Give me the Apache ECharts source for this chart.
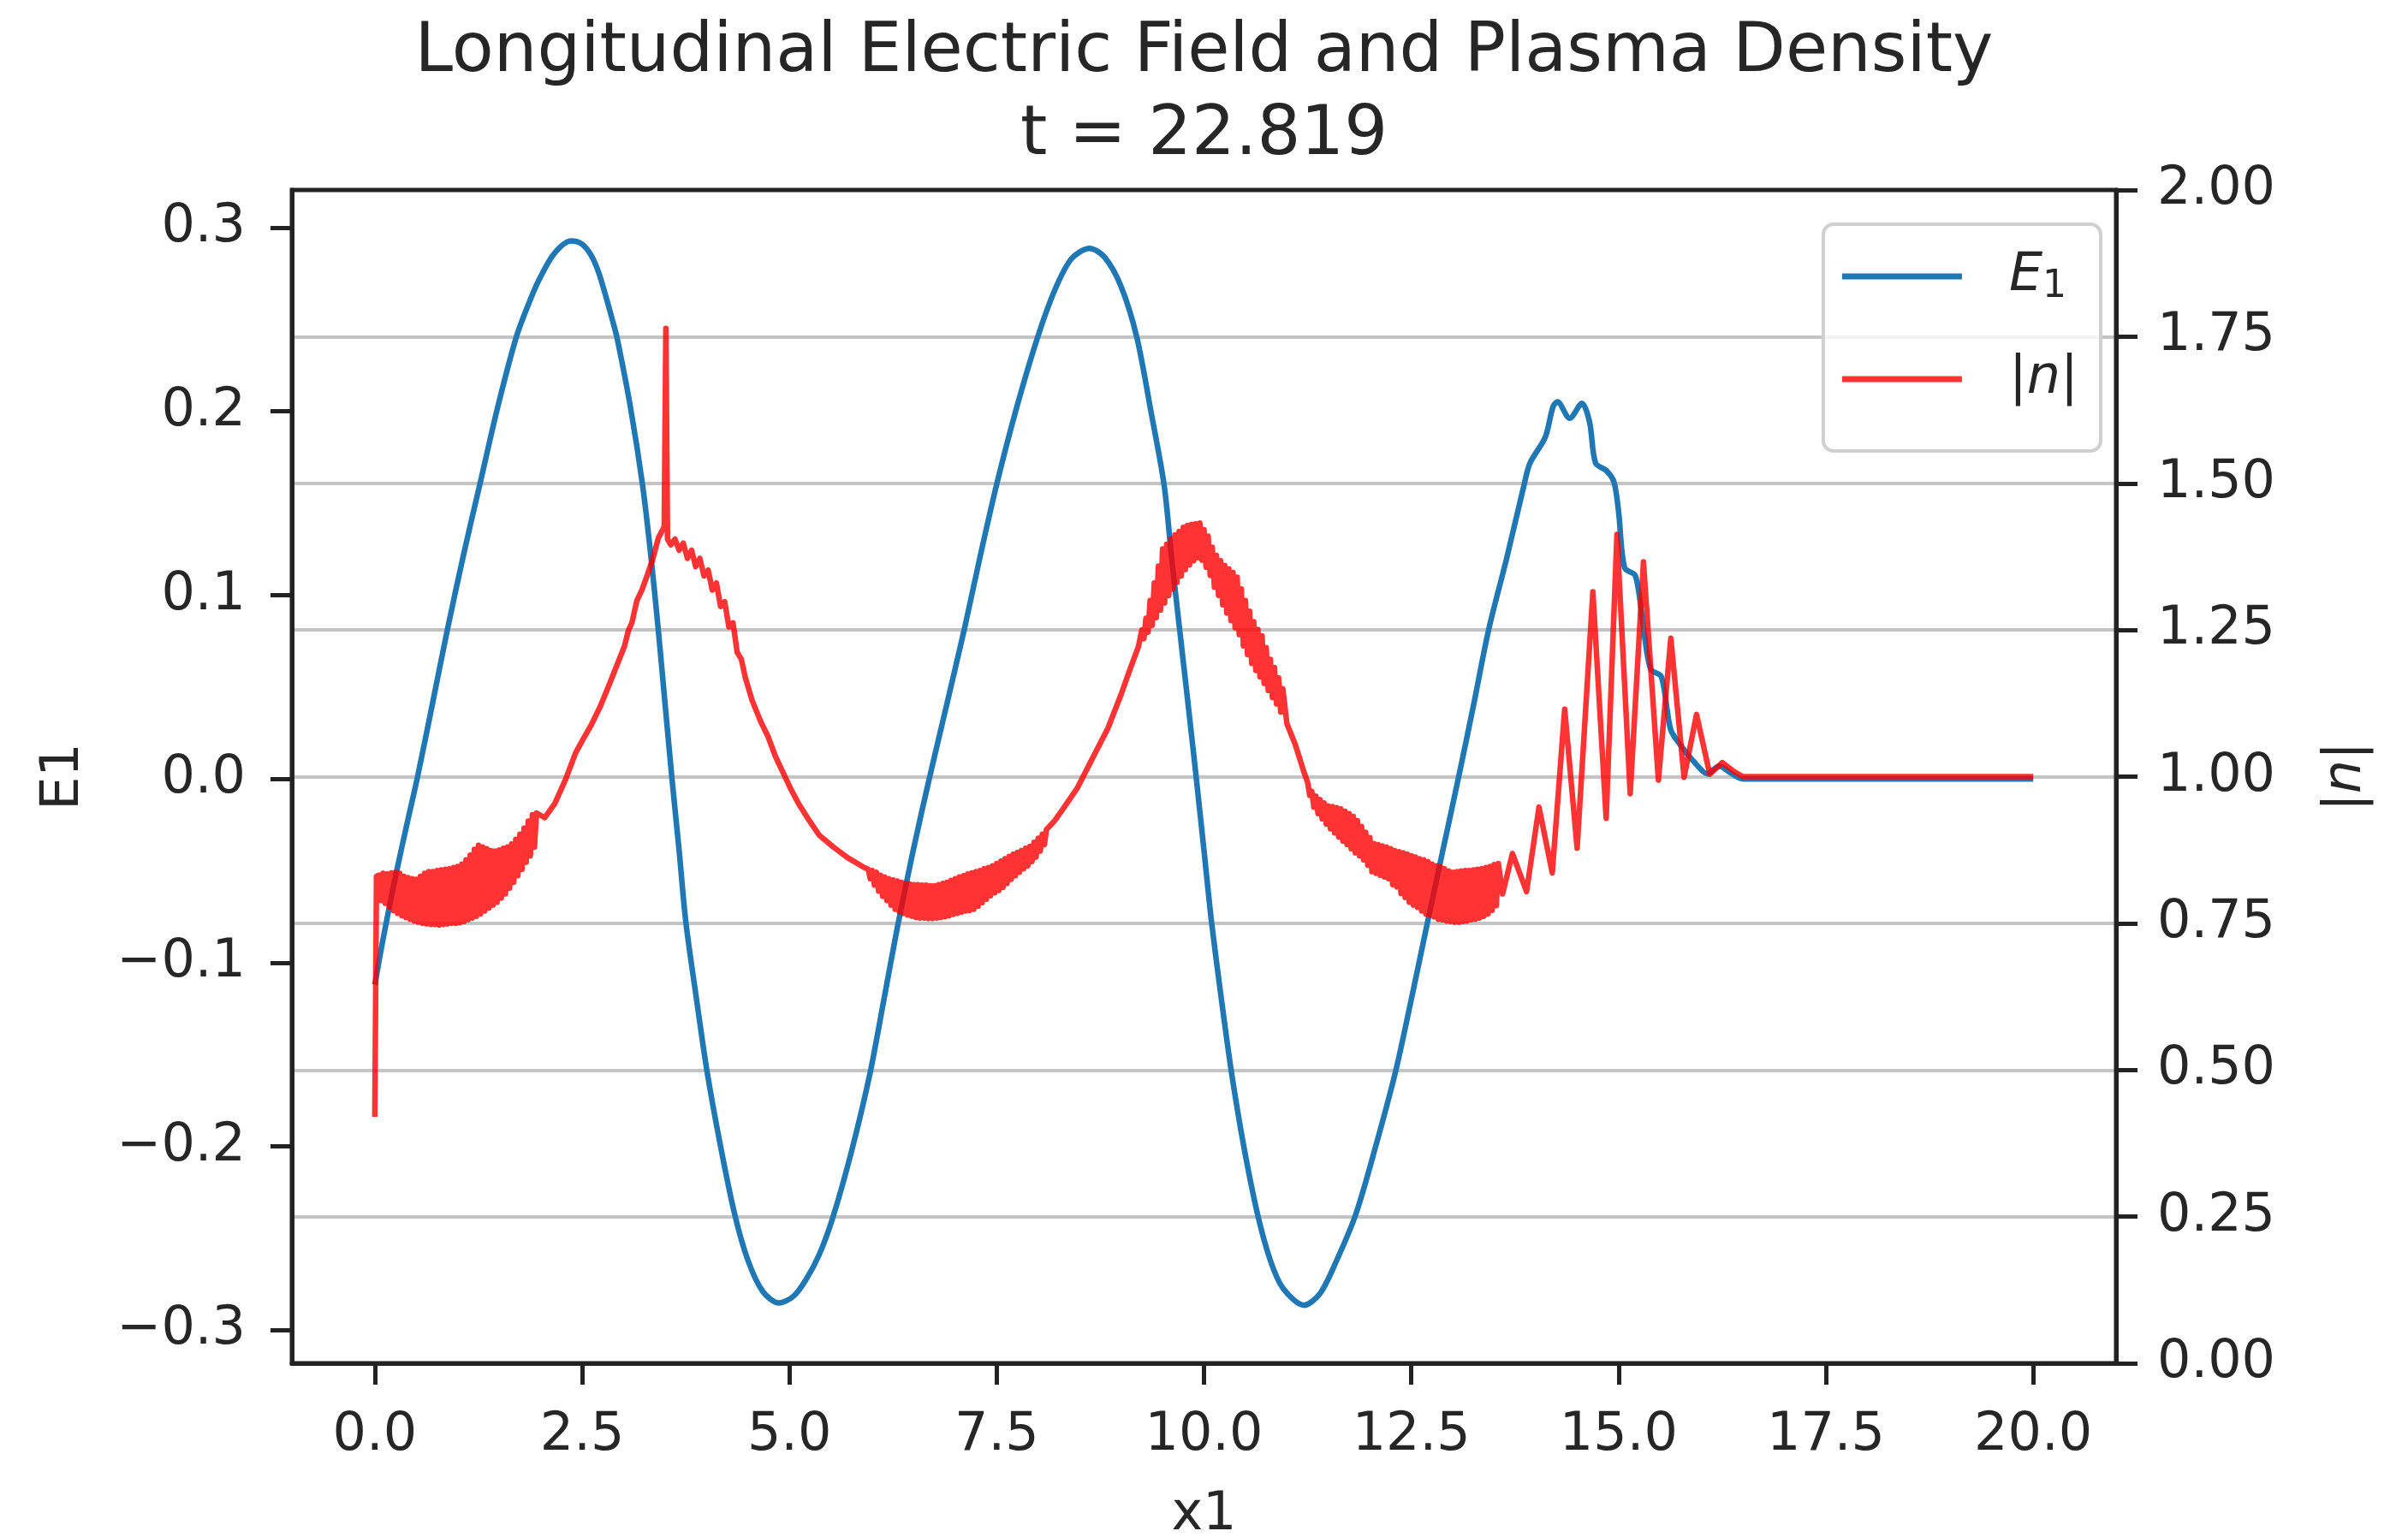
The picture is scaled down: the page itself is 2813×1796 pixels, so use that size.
<!DOCTYPE html>
<html><head><meta charset="utf-8">
<script src="https://cdn.jsdelivr.net/npm/echarts@6/dist/echarts.min.js"></script>
<style>html,body{margin:0;padding:0;background:#fff}#c{width:2813px;height:1796px}</style>
</head><body><div id="c"></div><script>
const titleText = 'Longitudinal Electric Field and Plasma Density\nt = 22.819';
const xName = 'x1';
const leftName = 'E1';
const xTickValues = [0, 2.5, 5, 7.5, 10, 12.5, 15, 17.5, 20];
const eTickValues = [-0.3, -0.2, -0.1, 0, 0.1, 0.2, 0.3];
const seriesNames = ['E1', 'n'];

// Longitudinal electric field E1 vs x1
const e1Points = [
[0.0,-0.112],[0.1,-0.087],[0.25,-0.053],[0.4,-0.022],[0.51,0.0],[0.7,0.042],[0.876,0.0814],[1.07,0.122],[1.263,0.1596],[1.48,0.202],[1.705,0.2403],[1.85,0.258],[1.98,0.2716],[2.165,0.286],[2.368,0.2928],[2.5,0.291],[2.608,0.285],[2.7,0.2755],[2.79,0.262],[2.87,0.249],[2.92,0.2403],[3.08,0.203],[3.23,0.1596],[3.33,0.121],[3.418,0.0814],[3.5,0.041],[3.584,0.0],[3.67,-0.039],[3.75,-0.0775],[3.88,-0.12],[4.007,-0.1593],[4.17,-0.2],[4.339,-0.2367],[4.5,-0.262],[4.68,-0.279],[4.873,-0.2852],[5.05,-0.2815],[5.2,-0.2725],[5.363,-0.2585],[5.525,-0.2385],[5.75,-0.2025],[5.967,-0.1613],[6.13,-0.1225],[6.299,-0.0815],[6.49,-0.0395],[6.686,0.0],[6.9,0.041],[7.109,0.0814],[7.3,0.121],[7.496,0.1596],[7.74,0.202],[7.993,0.2403],[8.2,0.266],[8.4,0.283],[8.619,0.2887],[8.8,0.284],[9.0,0.268],[9.19,0.2403],[9.36,0.2],[9.52,0.1596],[9.61,0.12],[9.706,0.0814],[9.81,0.04],[9.908,0.0],[10.0,-0.039],[10.09,-0.0775],[10.21,-0.12],[10.33,-0.1593],[10.48,-0.2],[10.645,-0.2367],[10.8,-0.262],[10.95,-0.277],[11.206,-0.2864],[11.4,-0.28],[11.6,-0.262],[11.832,-0.2367],[12.07,-0.2],[12.31,-0.1593],[12.5,-0.12],[12.698,-0.0775],[12.88,-0.039],[13.066,0.0],[13.25,0.04],[13.434,0.0814],[13.65,0.12],[13.858,0.1596],[13.931,0.1718],[14.116,0.186],[14.208,0.2024],[14.263,0.2052],[14.41,0.1963],[14.558,0.2044],[14.65,0.1942],[14.723,0.1718],[14.852,0.1678],[14.944,0.1616],[15.0,0.1454],[15.073,0.1148],[15.202,0.1107],[15.294,0.0843],[15.386,0.0598],[15.515,0.0557],[15.626,0.0272],[15.736,0.019],[15.957,0.0069],[16.068,0.0028],[16.215,0.007],[16.36,0.003],[16.5,0.0],[20.0,0.0]
];

// Plasma density |n| vs x1 (noisy band regions read as alternating upper/lower edge)
const densityPoints = [
[0.00,0.42],[0.02,0.83],
[0.050,0.832],[0.075,0.789],[0.100,0.835],[0.125,0.784],[0.150,0.834],[0.175,0.778],[0.200,0.836],[0.225,0.772],[0.250,0.837],[0.275,0.767],[0.300,0.835],[0.325,0.763],[0.350,0.830],[0.375,0.760],[0.400,0.828],[0.425,0.757],[0.450,0.826],[0.475,0.754],[0.500,0.825],[0.525,0.752],[0.550,0.830],[0.575,0.750],[0.600,0.835],[0.625,0.749],[0.650,0.838],[0.675,0.748],[0.700,0.838],[0.725,0.748],[0.750,0.840],[0.775,0.747],[0.800,0.841],[0.825,0.748],[0.850,0.842],[0.875,0.749],[0.900,0.843],[0.925,0.750],[0.950,0.845],[0.975,0.750],[1.000,0.847],[1.025,0.751],[1.050,0.851],[1.075,0.753],[1.100,0.858],[1.125,0.756],[1.150,0.866],[1.175,0.759],[1.200,0.876],[1.225,0.762],[1.250,0.883],[1.275,0.766],[1.300,0.880],[1.325,0.771],[1.350,0.877],[1.375,0.776],[1.400,0.874],[1.425,0.781],[1.450,0.873],[1.475,0.786],[1.500,0.875],[1.525,0.793],[1.550,0.878],[1.575,0.800],[1.600,0.880],[1.625,0.810],[1.650,0.885],[1.675,0.820],[1.700,0.893],[1.725,0.831],[1.750,0.902],[1.775,0.842],[1.800,0.912],[1.825,0.854],[1.850,0.924],[1.875,0.865],[1.900,0.935],[1.925,0.880],[1.950,0.938],
[2.05,0.930],[2.17,0.954],[2.30,0.995],[2.42,1.040],[2.52,1.066],[2.61,1.088],[2.72,1.120],[2.83,1.158],[2.92,1.190],[3.01,1.222],[3.06,1.250],[3.10,1.262],[3.16,1.300],[3.22,1.318],[3.27,1.337],[3.35,1.370],[3.42,1.407],[3.49,1.426],
[3.51,1.764],[3.53,1.405],
[3.57,1.395],[3.62,1.405],[3.67,1.386],[3.72,1.398],[3.77,1.372],[3.82,1.386],[3.87,1.358],[3.92,1.372],[3.97,1.342],[4.02,1.352],[4.07,1.318],[4.12,1.330],[4.17,1.290],[4.22,1.298],[4.27,1.255],[4.32,1.262],[4.37,1.212],[4.42,1.200],[4.47,1.168],
[4.55,1.130],[4.65,1.095],[4.74,1.069],[4.83,1.035],[4.93,1.005],[5.02,0.978],[5.11,0.954],[5.24,0.925],[5.36,0.900],[5.53,0.880],[5.70,0.862],[5.89,0.846],
[5.950,0.842],[5.975,0.826],[6.000,0.840],[6.025,0.815],[6.050,0.837],[6.075,0.805],[6.100,0.832],[6.125,0.796],[6.150,0.829],[6.175,0.789],[6.200,0.826],[6.225,0.781],[6.250,0.824],[6.275,0.774],[6.300,0.822],[6.325,0.770],[6.350,0.820],[6.375,0.767],[6.400,0.818],[6.425,0.764],[6.450,0.817],[6.475,0.762],[6.500,0.816],[6.525,0.760],[6.550,0.816],[6.575,0.759],[6.600,0.815],[6.625,0.759],[6.650,0.815],[6.675,0.758],[6.700,0.814],[6.725,0.758],[6.750,0.814],[6.775,0.759],[6.800,0.816],[6.825,0.760],[6.850,0.818],[6.875,0.761],[6.900,0.820],[6.925,0.763],[6.950,0.823],[6.975,0.765],[7.000,0.826],[7.025,0.767],[7.050,0.829],[7.075,0.769],[7.100,0.831],[7.125,0.771],[7.150,0.834],[7.175,0.772],[7.200,0.836],[7.225,0.774],[7.250,0.838],[7.275,0.779],[7.300,0.840],[7.325,0.785],[7.350,0.843],[7.375,0.791],[7.400,0.845],[7.425,0.797],[7.450,0.848],[7.475,0.802],[7.500,0.852],[7.525,0.806],[7.550,0.856],[7.575,0.811],[7.600,0.860],[7.625,0.818],[7.650,0.864],[7.675,0.825],[7.700,0.868],[7.725,0.831],[7.750,0.871],[7.775,0.837],[7.800,0.874],[7.825,0.843],[7.850,0.878],[7.875,0.848],[7.900,0.881],[7.925,0.855],[7.950,0.888],[7.975,0.863],[8.000,0.895],[8.025,0.873],[8.050,0.902],[8.075,0.884],[8.100,0.910],
[8.20,0.925],[8.30,0.945],[8.47,0.980],[8.65,1.030],[8.84,1.082],[9.00,1.140],[9.10,1.180],[9.21,1.222],
[9.250,1.250],[9.275,1.235],[9.300,1.270],[9.325,1.246],[9.350,1.300],[9.375,1.258],[9.400,1.330],[9.425,1.271],[9.450,1.359],[9.475,1.284],[9.500,1.388],[9.525,1.296],[9.550,1.396],[9.575,1.309],[9.600,1.405],[9.625,1.320],[9.650,1.412],[9.675,1.331],[9.700,1.418],[9.725,1.342],[9.750,1.425],[9.775,1.353],[9.800,1.428],[9.825,1.361],[9.850,1.430],[9.875,1.368],[9.900,1.431],[9.925,1.373],[9.950,1.432],[9.975,1.369],[10.000,1.421],[10.025,1.357],[10.050,1.410],[10.075,1.343],[10.100,1.391],[10.125,1.323],[10.150,1.377],[10.175,1.309],[10.200,1.368],[10.225,1.293],[10.250,1.360],[10.275,1.279],[10.300,1.354],[10.325,1.266],[10.350,1.348],[10.375,1.254],[10.400,1.340],[10.425,1.242],[10.450,1.320],[10.475,1.223],[10.500,1.300],[10.525,1.208],[10.550,1.282],[10.575,1.193],[10.600,1.264],[10.625,1.181],[10.650,1.251],[10.675,1.170],[10.700,1.240],[10.725,1.159],[10.750,1.220],[10.775,1.147],[10.800,1.200],[10.825,1.135],[10.850,1.186],[10.875,1.124],[10.900,1.168],[10.925,1.110],[10.950,1.150],
[11.00,1.090],[11.10,1.055],[11.20,1.010],
[11.250,0.990],[11.275,0.968],[11.300,0.975],[11.325,0.948],[11.350,0.967],[11.375,0.937],[11.400,0.961],[11.425,0.928],[11.450,0.955],[11.475,0.919],[11.500,0.950],[11.525,0.911],[11.550,0.949],[11.575,0.904],[11.600,0.947],[11.625,0.897],[11.650,0.945],[11.675,0.890],[11.700,0.941],[11.725,0.884],[11.750,0.937],[11.775,0.877],[11.800,0.932],[11.825,0.870],[11.850,0.925],[11.875,0.865],[11.900,0.915],[11.925,0.858],[11.950,0.905],[11.975,0.849],[12.000,0.896],[12.025,0.838],[12.050,0.886],[12.075,0.835],[12.100,0.884],[12.125,0.832],[12.150,0.882],[12.175,0.829],[12.200,0.880],[12.225,0.826],[12.250,0.877],[12.275,0.816],[12.300,0.874],[12.325,0.812],[12.350,0.872],[12.375,0.801],[12.400,0.870],[12.425,0.794],[12.450,0.868],[12.475,0.786],[12.500,0.865],[12.525,0.781],[12.550,0.863],[12.575,0.777],[12.600,0.860],[12.625,0.771],[12.650,0.858],[12.675,0.766],[12.700,0.855],[12.725,0.764],[12.750,0.851],[12.775,0.761],[12.800,0.848],[12.825,0.757],[12.850,0.846],[12.875,0.756],[12.900,0.843],[12.925,0.754],[12.950,0.839],[12.975,0.753],[13.000,0.837],[13.025,0.752],[13.050,0.838],[13.075,0.752],[13.100,0.839],[13.125,0.753],[13.150,0.840],[13.175,0.754],[13.200,0.840],[13.225,0.756],[13.250,0.841],[13.275,0.757],[13.300,0.842],[13.325,0.759],[13.350,0.843],[13.375,0.762],[13.400,0.845],[13.425,0.766],[13.450,0.847],[13.475,0.772],[13.500,0.850],[13.525,0.780],[13.550,0.852],
[13.60,0.800],[13.72,0.869],[13.89,0.804],[14.04,0.948],[14.20,0.836],[14.35,1.115],[14.50,0.878],[14.69,1.315],[14.85,0.929],[14.98,1.413],[15.14,0.971],[15.30,1.366],[15.48,0.994],[15.63,1.236],[15.79,0.999],[15.94,1.106],[16.10,1.004],[16.25,1.024],[16.40,1.008],[16.50,1.000],[20.00,1.000]
];

const FONT = 'DejaVu Sans';
const TXT = '#262626';
const SPINE = '#222';
const BLUE = '#1f77b4';
const RED = 'rgba(255,0,0,0.8)';

const chart = echarts.init(document.getElementById('c'), null, {renderer: 'canvas'});
chart.setOption({
  animation: false,
  backgroundColor: '#ffffff',
  textStyle: {fontFamily: FONT},
  title: {
    text: titleText,
    left: 'center',
    top: 9,
    textStyle: {fontFamily: FONT, fontSize: 80, fontWeight: 'normal', color: TXT, lineHeight: 97}
  },
  grid: {left: 341, right: 341, top: 222, bottom: 203, show: true, borderColor: SPINE, borderWidth: 5,
    backgroundColor: 'transparent', z: 10, containLabel: false, outerBoundsMode: 'none'},
  legend: {
    orient: 'vertical',
    right: 359,
    top: 262,
    padding: [26, 26, 49, 22],
    itemGap: 50,
    itemWidth: 140,
    itemHeight: 7,
    backgroundColor: 'rgba(255,255,255,0.8)',
    borderColor: '#d0d0d0',
    borderWidth: 4,
    borderRadius: 12,
    data: [{name: seriesNames[0], icon: 'rect'}, {name: seriesNames[1], icon: 'rect'}],
    formatter: function (name) {
      return name === 'E1' ? '{it|E}{sub|1}' : '{n||}{it|n}{n||}';
    },
    textStyle: {
      fontFamily: FONT, fontSize: 62, color: TXT, lineHeight: 70, padding: [0, 0, 0, 50],
      rich: {
        it: {fontFamily: FONT, fontStyle: 'italic', fontSize: 62, color: TXT, lineHeight: 70},
        n: {fontFamily: FONT, fontSize: 62, color: TXT, lineHeight: 70},
        sub: {fontFamily: FONT, fontSize: 44, color: TXT, lineHeight: 70, verticalAlign: 'bottom'}
      }
    }
  },
  xAxis: {
    type: 'value', min: -1, max: 21,
    name: xName, nameLocation: 'middle', nameGap: 147,
    nameTextStyle: {fontFamily: FONT, fontSize: 62, color: TXT},
    axisLine: {show: true, onZero: false, lineStyle: {color: SPINE, width: 5}},
    axisTick: {show: true, length: 25, lineStyle: {color: SPINE, width: 5}, customValues: xTickValues},
    axisLabel: {show: true, margin: 54, fontFamily: FONT, fontSize: 62, color: TXT, customValues: xTickValues,
      formatter: function (v) { return Number(v).toFixed(1); }},
    splitLine: {show: false}
  },
  yAxis: [
    {
      type: 'value', min: -0.318, max: 0.3205, position: 'left',
      name: leftName, nameLocation: 'middle', nameGap: 235, nameRotate: 90,
      nameTextStyle: {fontFamily: FONT, fontSize: 62, color: TXT},
      axisLine: {show: true, onZero: false, lineStyle: {color: SPINE, width: 5}},
      axisTick: {show: true, length: 25, lineStyle: {color: SPINE, width: 5}, customValues: eTickValues},
      axisLabel: {show: true, margin: 54, fontFamily: FONT, fontSize: 62, color: TXT, customValues: eTickValues,
        formatter: function (v) { const r = Math.round(v * 10) / 10; return (r < 0 ? '\u2212' : '') + Math.abs(r).toFixed(1); }},
      splitLine: {show: false}
    },
    {
      type: 'value', min: 0, max: 2, interval: 0.25, position: 'right',
      name: '{n||}{it|n}{n||}', nameLocation: 'middle', nameGap: 238, nameRotate: 90,
      nameTextStyle: {fontFamily: FONT, fontSize: 62, color: TXT,
        rich: {it: {fontFamily: FONT, fontStyle: 'italic', fontSize: 62, color: TXT}, n: {fontFamily: FONT, fontSize: 62, color: TXT}}},
      axisLine: {show: true, onZero: false, lineStyle: {color: SPINE, width: 5}},
      axisTick: {show: true, length: 25, lineStyle: {color: SPINE, width: 5}},
      axisLabel: {show: true, margin: 48, fontFamily: FONT, fontSize: 62, color: TXT,
        formatter: function (v) { return Number(v).toFixed(2); }},
      splitLine: {show: true, showMinLine: false, showMaxLine: false, lineStyle: {color: '#c4c4c4', width: 4}}
    }
  ],
  series: [
    {
      name: 'E1', type: 'line', yAxisIndex: 0, data: e1Points, symbol: 'none', showSymbol: false,
      smooth: 0.3, z: 2,
      lineStyle: {color: BLUE, width: 6.5, join: 'round', cap: 'butt'},
      itemStyle: {color: BLUE}
    },
    {
      name: 'n', type: 'line', yAxisIndex: 1, data: densityPoints, symbol: 'none', showSymbol: false,
      smooth: false, z: 3,
      lineStyle: {color: RED, width: 6.5, join: 'round', cap: 'butt'},
      itemStyle: {color: RED}
    }
  ]
});
</script></body></html>
